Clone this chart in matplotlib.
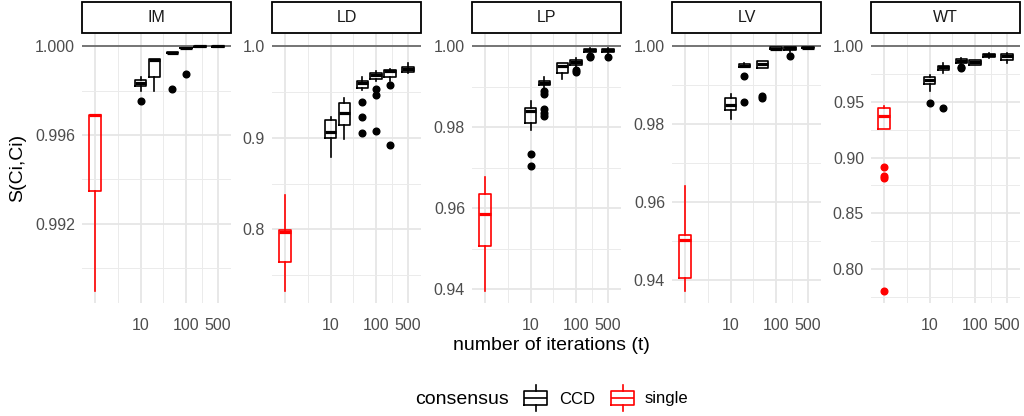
import numpy as np
import matplotlib
matplotlib.use("Agg")
import matplotlib.pyplot as plt
from matplotlib.patches import Rectangle

plt.rcParams['font.family'] = ['Liberation Sans', 'DejaVu Sans']

# number of iterations; first position is the "single" run, others are CCD
iters = [1, 10, 20, 50, 100, 200, 500]
consensus = ['single', 'CCD', 'CCD', 'CCD', 'CCD', 'CCD', 'CCD']
panels = ['IM', 'LD', 'LP', 'LV', 'WT']

# box statistics: (whisker low, q1, median, q3, whisker high, outliers)
im_lo = [0.98897, 0.99797, 0.99797, 0.99968, 0.99990, 0.99998, 0.99998]
im_q1 = [0.99345, 0.99822, 0.99860, 0.99968, 0.99990, 0.99998, 0.99998]
im_med = [0.99688, 0.99835, 0.99940, 0.99970, 0.99992, 1.00000, 1.00000]
im_q3 = [0.99691, 0.99846, 0.99944, 0.99972, 0.99994, 1.00000, 1.00000]
im_hi = [0.99691, 0.99860, 0.99944, 0.99972, 0.99994, 1.00000, 1.00000]
im_out = [[], [0.99755], [], [0.99809], [0.99875], [], []]

ld_lo = [0.7330, 0.8794, 0.8989, 0.9522, 0.9620, 0.9620, 0.9705]
ld_q1 = [0.7643, 0.8997, 0.9144, 0.9545, 0.9647, 0.9669, 0.9719]
ld_med = [0.7967, 0.9059, 0.9268, 0.9598, 0.9690, 0.9727, 0.9754]
ld_q3 = [0.7997, 0.9194, 0.9377, 0.9617, 0.9708, 0.9741, 0.9778]
ld_hi = [0.8379, 0.9224, 0.9435, 0.9661, 0.9727, 0.9750, 0.9818]
ld_out = [[], [], [], [0.9391, 0.9231, 0.9052], [0.9537, 0.9464, 0.9079], [0.9580, 0.8926], []]

lp_lo = [0.9396, 0.9794, 0.9895, 0.9920, 0.9945, 0.9978, 0.9976]
lp_q1 = [0.9507, 0.9811, 0.9904, 0.9934, 0.9953, 0.9985, 0.9985]
lp_med = [0.9585, 0.9840, 0.9910, 0.9950, 0.9960, 0.9990, 0.9990]
lp_q3 = [0.9634, 0.9848, 0.9914, 0.9959, 0.9967, 0.9993, 0.9993]
lp_hi = [0.9677, 0.9864, 0.9923, 0.9959, 0.9970, 0.9996, 0.9996]
lp_out = [[], [0.9733, 0.9705], [0.9889, 0.9882, 0.9844, 0.9836, 0.9827], [], [0.9936, 0.9940], [0.9975, 0.9972], [0.9974]]

lv_lo = [0.9371, 0.9812, 0.9946, 0.9945, 0.9991, 0.9985, 0.9994]
lv_q1 = [0.9404, 0.9835, 0.9946, 0.9945, 0.9992, 0.9990, 0.9995]
lv_med = [0.9501, 0.9850, 0.9950, 0.9955, 0.9994, 0.9995, 0.9996]
lv_q3 = [0.9514, 0.9867, 0.9955, 0.9962, 0.9997, 0.9998, 0.9997]
lv_hi = [0.9640, 0.9878, 0.9958, 0.9962, 0.9998, 0.9999, 0.9998]
lv_out = [[], [], [0.9923, 0.9857], [0.9872, 0.9868], [], [0.9976], []]

wt_lo = [0.9254, 0.9597, 0.9760, 0.9820, 0.9830, 0.9895, 0.9850]
wt_q1 = [0.9254, 0.9662, 0.9791, 0.9850, 0.9830, 0.9901, 0.9880]
wt_med = [0.9373, 0.9700, 0.9810, 0.9870, 0.9855, 0.9920, 0.9915]
wt_q3 = [0.9441, 0.9722, 0.9821, 0.9881, 0.9872, 0.9931, 0.9931]
wt_hi = [0.9460, 0.9740, 0.9850, 0.9890, 0.9880, 0.9935, 0.9935]
wt_out = [[0.8916, 0.8835, 0.8815, 0.7804], [0.9492], [0.9447], [0.9812, 0.9805], [], [], []]

stats = {
    'IM': (im_lo, im_q1, im_med, im_q3, im_hi, im_out),
    'LD': (ld_lo, ld_q1, ld_med, ld_q3, ld_hi, ld_out),
    'LP': (lp_lo, lp_q1, lp_med, lp_q3, lp_hi, lp_out),
    'LV': (lv_lo, lv_q1, lv_med, lv_q3, lv_hi, lv_out),
    'WT': (wt_lo, wt_q1, wt_med, wt_q3, wt_hi, wt_out),
}

# y axis setup per panel: limits, major ticks, labels, minor ticks
y_limits = {'IM': (0.98842, 1.00055), 'LD': (0.7196, 1.0134), 'LP': (0.9366, 1.0030),
            'LV': (0.9340, 1.00315), 'WT': (0.7694, 1.0110)}
y_major = {'IM': [0.992, 0.996, 1.000], 'LD': [0.8, 0.9, 1.0], 'LP': [0.94, 0.96, 0.98, 1.00],
           'LV': [0.94, 0.96, 0.98, 1.00], 'WT': [0.80, 0.85, 0.90, 0.95, 1.00]}
y_fmt = {'IM': '{:.3f}', 'LD': '{:.1f}', 'LP': '{:.2f}', 'LV': '{:.2f}', 'WT': '{:.2f}'}
y_minor = {'IM': [0.990, 0.994, 0.998], 'LD': [0.75, 0.85, 0.95], 'LP': [0.95, 0.97, 0.99],
           'LV': [0.95, 0.97, 0.99], 'WT': [0.775, 0.825, 0.875, 0.925, 0.975]}

colors = {'CCD': 'black', 'single': '#FF0000'}
W, H = 1024, 416
fig = plt.figure(figsize=(W / 100, H / 100), dpi=100)


def px_axes(x0, y0, x1, y1):
    return fig.add_axes([x0 / W, 1 - y1 / H, (x1 - x0) / W, (y1 - y0) / H])


lefts = [82, 272, 472, 672, 871]
pw = 149
ptop, pbot = 34, 303
logx = np.log10(iters)

for name, left in zip(panels, lefts):
    ax = px_axes(left, ptop, left + pw, pbot)
    lo, q1, med, q3, hi, out = stats[name]
    for i in range(len(iters)):
        c = colors[consensus[i]]
        s = [dict(whislo=lo[i], q1=q1[i], med=med[i], q3=q3[i], whishi=hi[i], fliers=out[i])]
        ax.bxp(s, positions=[logx[i]], widths=0.25, showcaps=False, patch_artist=False,
               boxprops=dict(color=c, lw=1.2),
               whiskerprops=dict(color=c, lw=1.2),
               medianprops=dict(color=c, lw=2.3, solid_capstyle='butt'),
               flierprops=dict(marker='o', markerfacecolor=c, markeredgecolor=c,
                               markersize=4.8, linestyle='none'),
               manage_ticks=False, zorder=3)
    ax.axhline(1.0, color='#555555', lw=1.1, zorder=2)
    ax.set_xlim(-0.28, 2.98)
    ax.set_ylim(*y_limits[name])
    ax.set_xticks(np.log10([1, 10, 100, 500]))
    ax.set_xticklabels(['', '10', '100', '500'])
    ax.set_xticks(np.log10([10 ** 0.5, 10 ** 1.5, np.sqrt(100 * 500)]), minor=True)
    ax.set_yticks(y_major[name])
    ax.set_yticklabels([y_fmt[name].format(v) for v in y_major[name]])
    ax.set_yticks(y_minor[name], minor=True)
    ax.grid(which='major', color='#E6E6E6', lw=1.3, zorder=0)
    ax.grid(which='minor', color='#EBEBEB', lw=0.7, zorder=0)
    ax.set_axisbelow(True)
    ax.tick_params(which='both', length=0)
    ax.tick_params(axis='y', labelsize=11.5, labelcolor='#4D4D4D', pad=5)
    ax.tick_params(axis='x', labelsize=11.5, labelcolor='#4D4D4D', pad=11)
    for sp in ax.spines.values():
        sp.set_visible(False)
    # facet strip
    ph = pbot - ptop
    ax.add_patch(Rectangle((0, 1 + 1 / ph), 1, 31 / ph, transform=ax.transAxes,
                           facecolor='white', edgecolor='black', lw=1.3, clip_on=False))
    ax.text(0.5, 1 + 16.5 / ph, name, transform=ax.transAxes, ha='center', va='center',
            fontsize=11.5, color='#1A1A1A')

fig.text(18 / W, 1 - 168 / H, 'S(Ci,Ci)', rotation=90, ha='center', va='center',
         fontsize=14, color='black')
fig.text(551 / W, 1 - 346 / H, 'number of iterations (t)', ha='center', va='center',
         fontsize=14, color='black')

# legend
fig.text(462 / W, 1 - 399 / H, 'consensus', ha='center', va='center', fontsize=14)
for label, kx, tx in [('CCD', 523, 559), ('single', 610, 645)]:
    kax = px_axes(kx, 384, kx + 25, 412)
    c = colors[label]
    kax.bxp([dict(whislo=0.05, q1=0.25, med=0.5, q3=0.75, whishi=0.95, fliers=[])],
            positions=[0.5], widths=0.95, showcaps=False,
            boxprops=dict(color=c, lw=1.2), whiskerprops=dict(color=c, lw=1.2),
            medianprops=dict(color=c, lw=1.2), manage_ticks=False)
    kax.set_xlim(0, 1)
    kax.set_ylim(0, 1)
    kax.axis('off')
    fig.text(tx / W, 1 - 399 / H, label, ha='left', va='center', fontsize=12)

fig.savefig('out.png', dpi=100, facecolor='white')
